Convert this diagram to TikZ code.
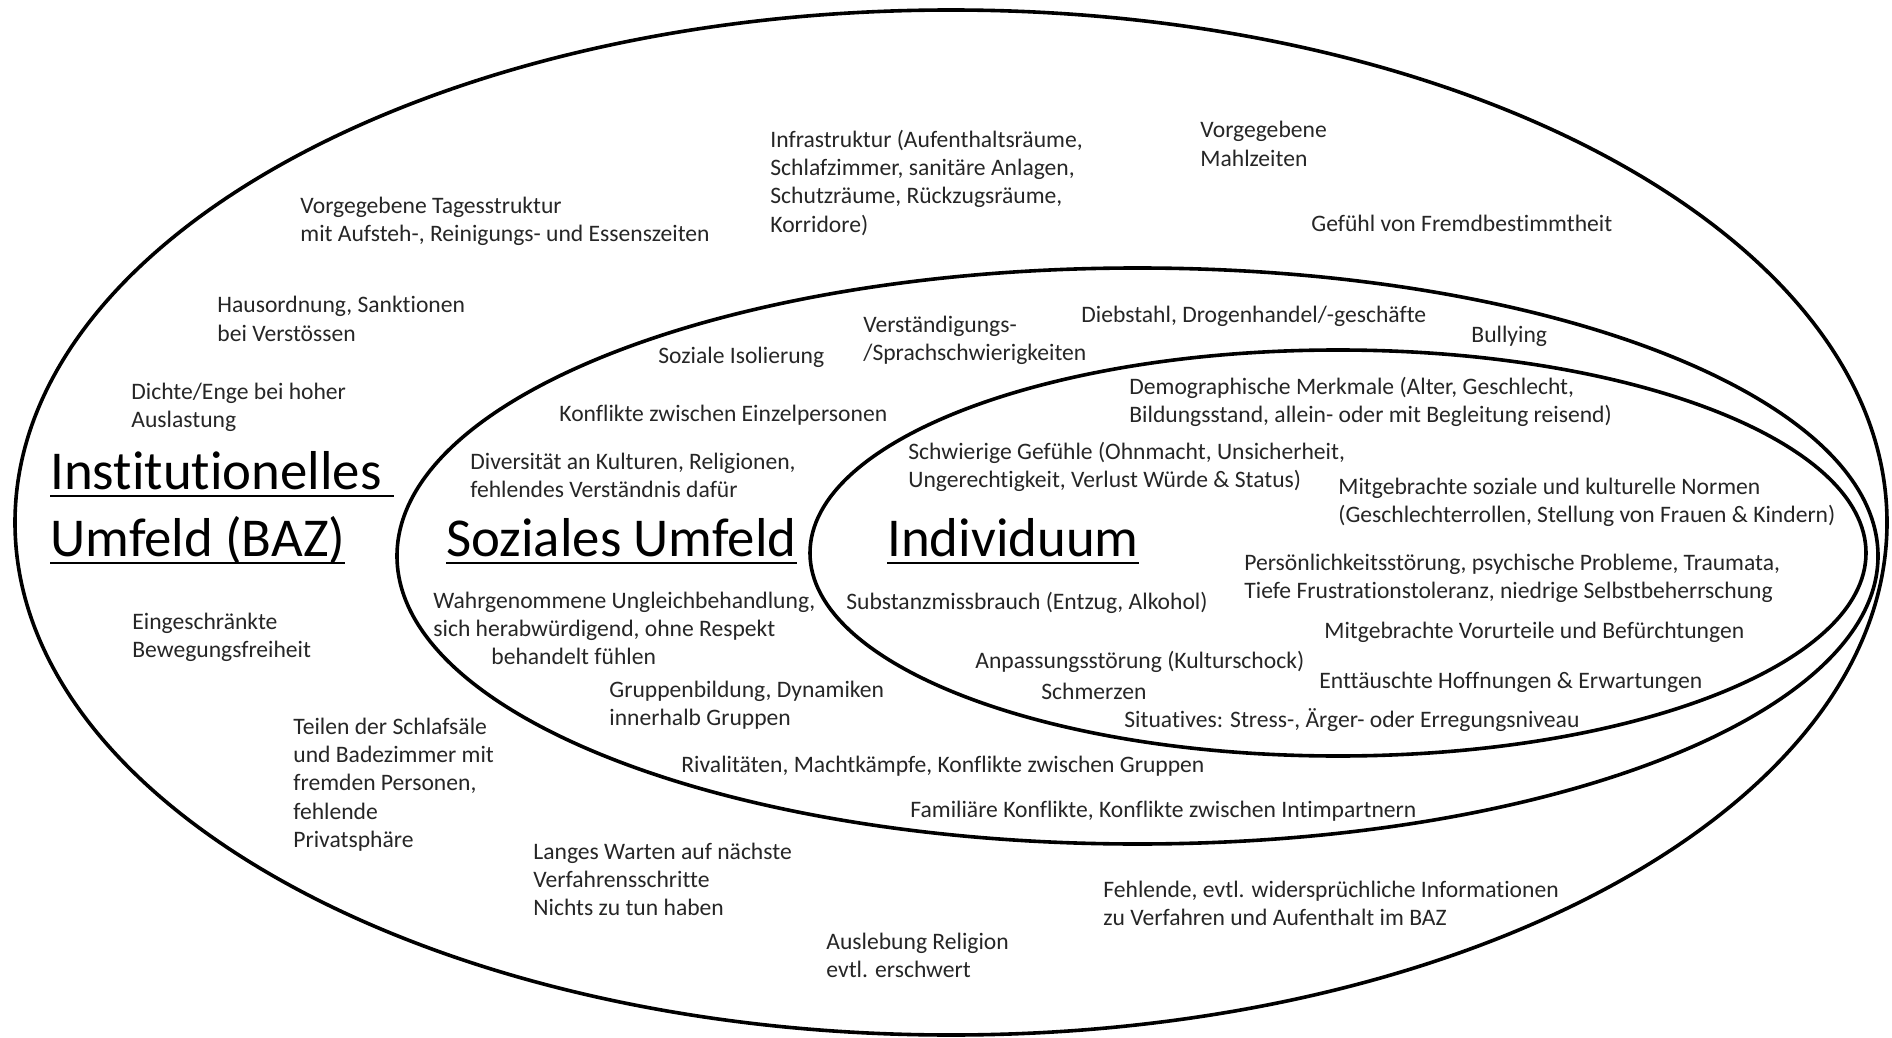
\documentclass[tikz,border=0pt]{standalone}
\usepackage{fontspec}
\setmainfont{Carlito}[Ligatures=NoCommon]
\newcommand\myul[1]{\setbox0\hbox{#1}\rlap{\rule[-4.2pt]{\wd0}{1.4pt}}\box0}
\begin{document}
\begin{tikzpicture}[x=0.5pt,y=-0.5pt,
  txt/.style={anchor=base west,inner sep=0pt,align=left,text=black!85,
    font=\fontsize{11.8}{14.2}\selectfont},
  title/.style={anchor=base west,inner sep=0pt,align=left,text=black,
    font=\fontsize{27.4}{33.5}\selectfont},
  ring/.style={line width=1.8pt,black}]
\useasboundingbox[fill=white] (0,0) rectangle (1892,1038);
% rings
\draw[ring] (951,522.5) ellipse [x radius=936, y radius=512.5];
\draw[ring] (1137.5,556) ellipse [x radius=740.5, y radius=288];
\draw[ring] (1338,553) ellipse [x radius=528, y radius=203];
% institutional environment (coordinates = baseline of last line)
\node[txt] (n1) at (300,241.4) {Vorgegebene Tagesstruktur\\mit Aufsteh-, Reinigungs- und Essenszeiten};
\node[txt] (n2) at (770,232.2) {Infrastruktur (Aufenthaltsräume,\\Schlafzimmer, sanitäre Anlagen,\\Schutzräume, Rückzugsräume,\\Korridore)};
\node[txt] (n3) at (1200,166.4) {Vorgegebene\\Mahlzeiten};
\node[txt] (n4) at (1311,232) {Gefühl von Fremdbestimmtheit};
\node[txt] (n5) at (217,341.4) {Hausordnung, Sanktionen\\bei Verstössen};
\node[txt] (n6) at (131,427.4) {Dichte/Enge bei hoher\\Auslastung};
\node[title] (t1) at (50,556) {\myul{Institutionelles\ }\\\myul{Umfeld (BAZ)}};
\node[txt] (n7) at (132,657.4) {Eingeschränkte\\Bewegungsfreiheit};
\node[txt] (n8) at (293,847.6) {Teilen der Schlafsäle\\und Badezimmer mit\\fremden Personen,\\fehlende\\Privatsphäre};
\node[txt] (n9) at (533,915.8) {Langes Warten auf nächste\\Verfahrensschritte\\Nichts zu tun haben};
\node[txt] (n10) at (826,977.4) {Auslebung Religion\\evtl. erschwert};
\node[txt] (n11) at (1103,925.4) {Fehlende, evtl. widersprüchliche Informationen\\zu Verfahren und Aufenthalt im BAZ};
% social environment
\node[txt] (s1) at (658,363) {Soziale Isolierung};
\node[txt] (s2) at (863,360.4) {Verständigungs-\\/Sprachschwierigkeiten};
\node[txt] (s3) at (1081,322) {Diebstahl, Drogenhandel/-geschäfte};
\node[txt] (s4) at (1471,342) {Bullying};
\node[txt] (s5) at (559,421) {Konflikte zwischen Einzelpersonen};
\node[txt] (s6) at (470,497.4) {Diversität an Kulturen, Religionen,\\fehlendes Verständnis dafür};
\node[title] (t2) at (446,556) {\myul{Soziales Umfeld}};
\node[txt] (s7) at (433,664.8) {Wahrgenommene Ungleichbehandlung,\\sich herabwürdigend, ohne Respekt\\\hspace*{29pt}behandelt fühlen};
\node[txt] (s8) at (609,725.4) {Gruppenbildung, Dynamiken\\innerhalb Gruppen};
\node[txt] (s9) at (681,772) {Rivalitäten, Machtkämpfe, Konflikte zwischen Gruppen};
\node[txt] (s10) at (910,817) {Familiäre Konflikte, Konflikte zwischen Intimpartnern};
% individual
\node[txt] (i1) at (1129,422.4) {Demographische Merkmale (Alter, Geschlecht,\\Bildungsstand, allein- oder mit Begleitung reisend)};
\node[txt] (i2) at (908,487.4) {Schwierige Gefühle (Ohnmacht, Unsicherheit,\\Ungerechtigkeit, Verlust Würde \& Status)};
\node[txt] (i3) at (1338,522.4) {Mitgebrachte soziale und kulturelle Normen\\(Geschlechterrollen, Stellung von Frauen \& Kindern)};
\node[title] (t3) at (887,556) {\myul{Individuum}};
\node[txt] (i4) at (1244,598.4) {Persönlichkeitsstörung, psychische Probleme, Traumata,\\Tiefe Frustrationstoleranz, niedrige Selbstbeherrschung};
\node[txt] (i5) at (846,609) {Substanzmissbrauch (Entzug, Alkohol)};
\node[txt] (i6) at (1324,638) {Mitgebrachte Vorurteile und Befürchtungen};
\node[txt] (i7) at (975,668) {Anpassungsstörung (Kulturschock)};
\node[txt] (i8) at (1319,688) {Enttäuschte Hoffnungen \& Erwartungen};
\node[txt] (i9) at (1041,699) {Schmerzen};
\node[txt] (i10) at (1124,727) {Situatives: Stress-, Ärger- oder Erregungsniveau};
\end{tikzpicture}
\end{document}
